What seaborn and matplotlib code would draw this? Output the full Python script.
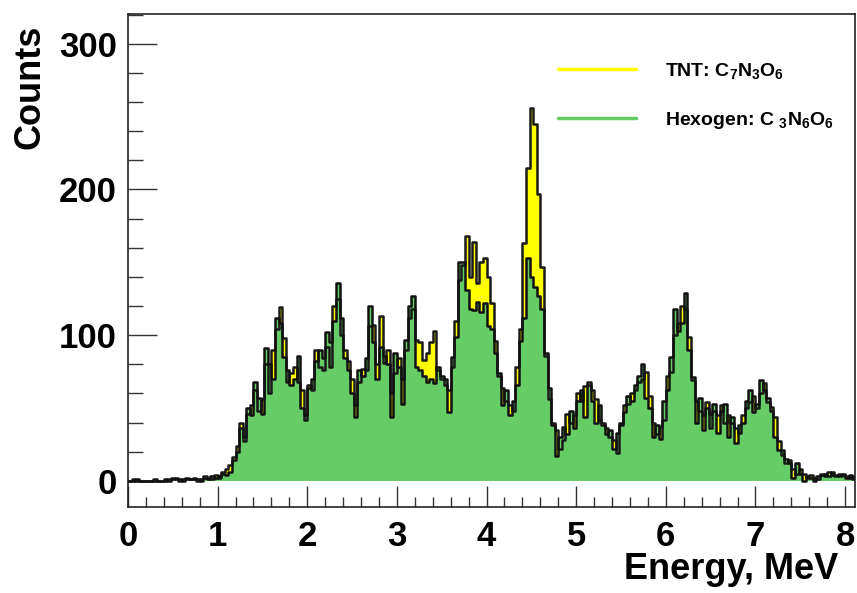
import numpy as np
import pandas as pd
import matplotlib
matplotlib.use("Agg")
import matplotlib.pyplot as plt
from matplotlib.lines import Line2D
from matplotlib.ticker import MultipleLocator
import seaborn as sns

# ---------------- data (counts per 0.04 MeV bin, starting at 0 MeV) ----------------
BIN_WIDTH = 0.04

hexogen_0_1 = [0, 0, 1, 0, 0, 0, 0, 0, 0, 0, 1, 0, 1, 2, 1, 0, 1, 1, 2, 1, 0, 2, 1, 3, 2]
hexogen_1_2 = [3, 5, 4, 6, 14, 20, 36, 30, 50, 45, 68, 57, 46, 91, 80, 70, 112, 108, 85, 76, 66, 70, 86, 50, 45]
hexogen_2_3 = [64, 70, 82, 90, 84, 102, 95, 110, 136, 112, 84, 76, 60, 44, 76, 72, 84, 120, 95, 70, 92, 86, 80, 44, 88]
hexogen_3_4 = [78, 53, 97, 120, 127, 78, 76, 72, 68, 70, 67, 78, 72, 70, 47, 85, 99, 150, 150, 131, 118, 117, 123, 116, 122]
hexogen_4_5 = [106, 104, 88, 74, 52, 62, 45, 55, 66, 96, 112, 153, 140, 133, 127, 118, 88, 64, 38, 17, 30, 37, 32, 48, 36]
hexogen_5_6 = [55, 62, 44, 66, 55, 40, 52, 38, 32, 35, 22, 33, 40, 47, 58, 55, 66, 72, 80, 57, 50, 30, 38, 29, 55]
hexogen_6_7 = [62, 85, 118, 103, 108, 129, 90, 71, 40, 57, 35, 50, 46, 53, 33, 48, 53, 30, 44, 26, 38, 40, 55, 62, 47]
hexogen_7_8 = [53, 69, 62, 57, 48, 30, 21, 21, 15, 12, 2, 12, 5, 0, 3, 2, 0, 3, 4, 5, 3, 6, 4, 3, 5, 2, 4, 1]

tnt_0_1 = [0, 1, 0, 0, 0, 0, 0, 1, 0, 0, 0, 1, 2, 1, 0, 1, 2, 1, 1, 0, 1, 3, 2, 1, 4]
tnt_1_2 = [2, 6, 8, 11, 16, 24, 40, 27, 46, 52, 62, 48, 56, 80, 60, 90, 104, 119, 98, 68, 74, 78, 68, 62, 42]
tnt_2_3 = [66, 62, 90, 78, 76, 92, 78, 120, 125, 100, 90, 82, 70, 52, 68, 77, 76, 106, 107, 80, 113, 81, 90, 60, 74]
tnt_3_4 = [84, 70, 90, 112, 118, 97, 95, 83, 88, 95, 103, 76, 70, 66, 62, 78, 110, 138, 148, 168, 140, 164, 136, 150, 153]
tnt_4_5 = [140, 122, 96, 72, 64, 55, 52, 48, 78, 104, 163, 215, 256, 245, 197, 147, 86, 56, 40, 35, 22, 28, 46, 40, 45]
tnt_5_6 = [60, 55, 65, 68, 62, 56, 42, 40, 36, 30, 28, 19, 38, 52, 53, 60, 62, 68, 70, 75, 58, 40, 32, 37, 42]
tnt_6_7 = [72, 75, 100, 108, 120, 118, 99, 69, 55, 48, 45, 54, 36, 48, 45, 52, 40, 45, 40, 36, 33, 45, 50, 54, 58]
tnt_7_8 = [50, 60, 67, 54, 51, 44, 27, 18, 12, 14, 8, 5, 8, 5, 2, 4, 2, 1, 5, 3, 6, 4, 3, 5, 4, 3, 2, 3]

series_labels = [r"TNT: C$_7$N$_3$O$_6$", r"Hexogen: C $_3$N$_6$O$_6$"]
x_tick_values = [0, 1, 2, 3, 4, 5, 6, 7, 8]
y_tick_values = [0, 100, 200, 300]
x_label = "Energy, MeV"
y_label = "Counts"

YELLOW = "#FFFF00"
GREEN = "#66CC66"

hexogen = (hexogen_0_1 + hexogen_1_2 + hexogen_2_3 + hexogen_3_4 +
           hexogen_4_5 + hexogen_5_6 + hexogen_6_7 + hexogen_7_8)
tnt = (tnt_0_1 + tnt_1_2 + tnt_2_3 + tnt_3_4 + tnt_4_5 + tnt_5_6 + tnt_6_7 + tnt_7_8)

n_bins = len(hexogen)
bin_range = (0.0, n_bins * BIN_WIDTH)
centers = (np.arange(n_bins) + 0.5) * BIN_WIDTH
df = pd.DataFrame({"energy": centers, "tnt": tnt, "hexogen": hexogen})

# ---------------- style ----------------
sns.set_theme(style="white")
plt.rcParams["font.family"] = ["Liberation Sans", "DejaVu Sans"]
plt.rcParams["font.weight"] = "bold"
plt.rcParams["axes.labelweight"] = "bold"
plt.rcParams["text.color"] = "black"
plt.rcParams["axes.labelcolor"] = "black"
plt.rcParams["xtick.color"] = "black"
plt.rcParams["ytick.color"] = "black"
plt.rcParams["mathtext.fontset"] = "custom"
plt.rcParams["mathtext.rm"] = "Liberation Sans:bold"
plt.rcParams["mathtext.it"] = "Liberation Sans:bold"
plt.rcParams["mathtext.bf"] = "Liberation Sans:bold"
plt.rcParams["mathtext.default"] = "rm"

W, H = 857, 593
fig = plt.figure(figsize=(W / 100, H / 100), dpi=100)
ax = fig.add_axes([128 / W, 1 - 507 / H, 727 / W, 493 / H])

hist_kw = dict(data=df, x="energy", binwidth=BIN_WIDTH, binrange=bin_range,
               element="step", ax=ax)
# fills
sns.histplot(weights="tnt", fill=True, color=YELLOW, alpha=1, linewidth=0,
             edgecolor="none", **hist_kw)
sns.histplot(weights="hexogen", fill=True, color=GREEN, alpha=1, linewidth=0,
             edgecolor="none", **hist_kw)
# outlines
sns.histplot(weights="tnt", fill=False, color="#1a1a1a", linewidth=1.8, **hist_kw)
sns.histplot(weights="hexogen", fill=False, color="#111111", linewidth=1.8, **hist_kw)

ax.set_xlim(0, 8.11)
ax.set_ylim(-18, 320.5)

ax.set_xticks(x_tick_values)
ax.set_yticks(y_tick_values)
ax.xaxis.set_minor_locator(MultipleLocator(0.2))
ax.yaxis.set_minor_locator(MultipleLocator(20))
ax.tick_params(axis="both", which="both", direction="in", colors="#333333",
               labelcolor="black", width=1.0, top=False, right=False)
ax.tick_params(axis="x", which="major", length=15, bottom=True, pad=9, labelsize=25)
ax.tick_params(axis="x", which="minor", length=7, bottom=True)
ax.tick_params(axis="y", which="major", length=21, left=True, pad=8, labelsize=25)
ax.tick_params(axis="y", which="minor", length=11, left=True)
for lab in ax.get_xticklabels() + ax.get_yticklabels():
    lab.set_fontweight("bold")
    lab.set_color("black")

for sp in ax.spines.values():
    sp.set_visible(True)
    sp.set_color("#222222")
    sp.set_linewidth(1.2)
ax.grid(False)

ax.set_ylabel(y_label, fontsize=26, fontweight="bold", loc="top", color="black")
ax.yaxis.set_label_coords(-0.111, 0.978)
ax.set_xlabel(x_label, fontsize=26, fontweight="bold", loc="right", color="black")
ax.xaxis.set_label_coords(0.977, -0.092)

handles = [Line2D([], [], color=YELLOW, lw=2.5), Line2D([], [], color=GREEN, lw=2.5)]
leg = ax.legend(handles, series_labels, loc="upper left", bbox_to_anchor=(0.5915, 0.905),
                frameon=False, prop={"weight": "bold", "size": 14}, handlelength=4,
                handletextpad=1.5, labelspacing=1.5, borderpad=0, borderaxespad=0)
for t in leg.get_texts():
    t.set_color("black")

fig.savefig("out.png", dpi=100)
